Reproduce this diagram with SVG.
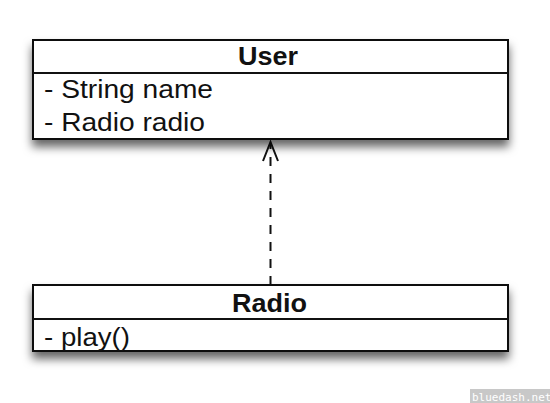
<svg xmlns="http://www.w3.org/2000/svg" width="550" height="403" viewBox="0 0 550 403">
<defs>
<filter id="sh" x="-10%" y="-20%" width="120%" height="170%">
<feDropShadow dx="0" dy="7" stdDeviation="5" flood-color="#000" flood-opacity="0.6"/>
</filter>
<style>
.box{fill:#fff;stroke:#111;stroke-width:2}
.ln{stroke:#111;stroke-width:2}
.t{font-family:"Liberation Sans",Arial,sans-serif;font-size:25px;fill:#111}
.b{font-weight:bold}
</style>
</defs>
<rect width="550" height="403" fill="#fff"/>
<g id="connectors">
<line x1="270.5" y1="285" x2="270.5" y2="143" stroke="#111" stroke-width="2" stroke-dasharray="9,8"/>
<path d="M263,161 L270.5,142 L278,161" fill="none" stroke="#111" stroke-width="2"/>
</g>
<g id="user">
<rect class="box" x="33" y="40" width="475" height="99" filter="url(#sh)"/>
<line class="ln" x1="33" y1="73" x2="508" y2="73"/>
<text class="t b" x="238" y="65" textLength="60" lengthAdjust="spacingAndGlyphs">User</text>
<text class="t" x="44" y="98" textLength="169" lengthAdjust="spacingAndGlyphs">- String name</text>
<text class="t" x="44" y="131" textLength="161" lengthAdjust="spacingAndGlyphs">- Radio radio</text>
</g>
<g id="radio">
<rect class="box" x="33" y="285" width="475" height="66" filter="url(#sh)"/>
<line class="ln" x1="33" y1="319" x2="508" y2="319"/>
<text class="t b" x="232" y="312" textLength="75" lengthAdjust="spacingAndGlyphs">Radio</text>
<text class="t" x="44" y="346" textLength="86" lengthAdjust="spacingAndGlyphs">- play()</text>
</g>
<g id="watermark">
<rect x="470" y="389" width="80" height="14" fill="#c8c8c8"/>
<text x="472" y="401" font-family="'DejaVu Sans Mono',monospace" font-size="11" fill="#fff">bluedash.net</text>
</g>
</svg>
